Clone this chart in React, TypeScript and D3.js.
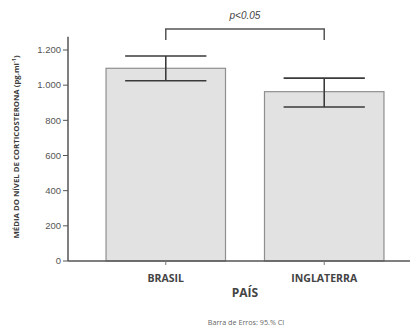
import React from "react";
import * as d3 from "d3";

// Mean corticosterone level by country, with 95% CI bounds
const paises = ["BRASIL", "INGLATERRA"];
const medias = [1096, 963];
const ciInferior = [1025, 876];
const ciSuperior = [1166, 1040];
const yTicks = [0, 200, 400, 600, 800, 1000, 1200];

const W = 413;
const H = 329;

const fmt = (v: number) => d3.format(",")(v).replace(/,/g, ".");

export default function App() {
  const y = d3.scaleLinear().domain([0, 1200]).range([261, 50]);
  const x = d3
    .scaleBand<string>()
    .domain(paises)
    .range([68, 422])
    .paddingInner(0.246)
    .paddingOuter(0.24);
  const bw = x.bandwidth();
  const capW = bw * 0.68;
  const axisTop = y(1275);
  const base = y(0);

  const c0 = (x(paises[0]) ?? 0) + bw / 2;
  const c1 = (x(paises[1]) ?? 0) + bw / 2;
  const bracketY = 29;
  const bracketDrop = 11;

  return (
    <svg
      width={W}
      height={H}
      style={{ position: "absolute", left: 0, top: 0, background: "#fff" }}
      fontFamily="'Open Sans', sans-serif"
    >
      {/* bars */}
      {paises.map((p, i) => (
        <rect
          key={p}
          x={x(p)}
          y={y(medias[i])}
          width={bw}
          height={base - y(medias[i])}
          fill="#e2e2e2"
          stroke="#8f8f8f"
          strokeWidth={1.2}
        />
      ))}

      {/* error bars */}
      {paises.map((p, i) => {
        const cx = (x(p) ?? 0) + bw / 2;
        return (
          <g key={p} stroke="#3a3a3a" strokeWidth={1.6}>
            <line x1={cx} x2={cx} y1={y(ciSuperior[i])} y2={y(ciInferior[i])} />
            <line x1={cx - capW / 2} x2={cx + capW / 2} y1={y(ciSuperior[i])} y2={y(ciSuperior[i])} />
            <line x1={cx - capW / 2} x2={cx + capW / 2} y1={y(ciInferior[i])} y2={y(ciInferior[i])} />
          </g>
        );
      })}

      {/* y axis */}
      <line x1={68} x2={68} y1={axisTop} y2={base} stroke="#555" strokeWidth={1.5} />
      {yTicks.map((t) => (
        <g key={t}>
          <line x1={63} x2={68} y1={y(t)} y2={y(t)} stroke="#555" strokeWidth={1} />
          <text
            x={61}
            y={y(t)}
            dy="0.35em"
            textAnchor="end"
            fontSize={9.5}
            fill="#555"
            fontFamily="'Liberation Sans', Arial, sans-serif"
          >
            {fmt(t)}
          </text>
        </g>
      ))}

      {/* x axis */}
      <line x1={68} x2={410} y1={base} y2={base} stroke="#555" strokeWidth={1.5} />
      {paises.map((p) => {
        const cx = (x(p) ?? 0) + bw / 2;
        return (
          <g key={p}>
            <line x1={cx} x2={cx} y1={base} y2={base + 4} stroke="#777" strokeWidth={1} />
            <text x={cx} y={282} textAnchor="middle" fontSize={10.5} fontWeight="bold" fill="#444">
              {p}
            </text>
          </g>
        );
      })}

      {/* axis titles */}
      <text x={245} y={297} textAnchor="middle" fontSize={12} fontWeight="bold" fill="#444">
        PAÍS
      </text>
      <text
        transform={`translate(19,${(37 + 257) / 2}) rotate(-90)`}
        textAnchor="middle"
        fontSize={7.8}
        fontWeight="bold"
        fill="#3a3a3a"
      >
        MÉDIA DO NÍVEL DE CORTICOSTERONA (pg.ml
        <tspan fontSize={5.5} dy={-3}>-1</tspan>
        <tspan dy={3}>)</tspan>
      </text>

      {/* significance bracket */}
      <path
        d={`M${c0},${bracketY + bracketDrop}V${bracketY}H${c1}V${bracketY + bracketDrop}`}
        fill="none"
        stroke="#555"
        strokeWidth={1.5}
      />
      <text
        x={(c0 + c1) / 2}
        y={19}
        textAnchor="middle"
        fontSize={10}
        fontStyle="italic"
        fill="#444"
        fontFamily="'Liberation Sans', Arial, sans-serif"
      >
        p&lt;0.05
      </text>

      {/* footnote */}
      <text x={246} y={325} textAnchor="middle" fontSize={7.2} fill="#666">
        Barra de Erros: 95.% CI
      </text>
    </svg>
  );
}
